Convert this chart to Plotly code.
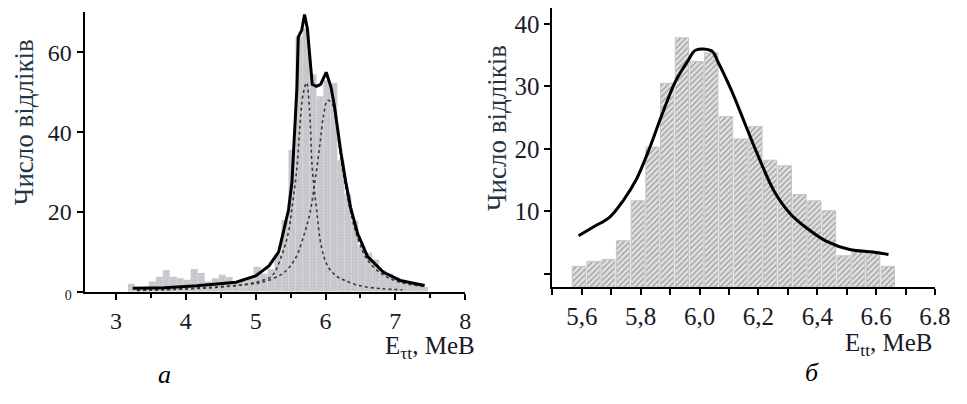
import plotly.graph_objects as go

# ---------------- panel (а) data ----------------
a_bin_centers = [3.22, 3.32, 3.42, 3.52, 3.62, 3.72, 3.82, 3.92, 4.02, 4.12, 4.22, 4.32,
                 4.42, 4.52, 4.62, 4.72, 4.82, 4.92, 5.02, 5.12, 5.22, 5.32, 5.42, 5.52,
                 5.62, 5.72, 5.82, 5.92, 6.02, 6.12, 6.22, 6.32, 6.42, 6.52, 6.62, 6.72,
                 6.82, 6.92, 7.02, 7.12, 7.22, 7.32, 7.42]
a_counts = [2.0, 1.0, 1.0, 2.6, 3.8, 5.4, 3.8, 3.4, 3.0, 5.7, 4.7, 2.6,
            3.4, 4.3, 3.7, 2.6, 2.8, 3.6, 6.3, 4.5, 5.7, 9.5, 18.0, 35.6,
            64.0, 66.0, 54.5, 49.0, 53.0, 52.3, 33.0, 24.4, 17.9, 11.4, 9.8, 8.1,
            5.5, 4.6, 3.6, 3.0, 2.4, 2.0, 1.2]

a_fit_x = [3.24, 3.69, 4.16, 4.5, 4.72, 5.0, 5.19, 5.33, 5.42, 5.47, 5.52, 5.56, 5.59,
           5.61, 5.66, 5.70, 5.74, 5.78, 5.81, 5.87, 5.93, 6.01, 6.08, 6.13, 6.17,
           6.22, 6.29, 6.36, 6.46, 6.60, 6.83, 7.07, 7.42]
a_fit_y = [0.9, 1.0, 1.5, 2.0, 2.4, 4.0, 6.5, 10.0, 16.3, 20.5, 27.6, 40.0, 51.0,
           63.8, 65.6, 69.5, 66.0, 58.0, 52.0, 51.5, 52.0, 55.0, 51.2, 46.3, 40.6,
           35.0, 27.6, 21.1, 14.6, 8.9, 4.9, 2.85, 1.6]

a_comp1_x = [3.3, 4.0, 4.5, 4.9, 5.1, 5.24, 5.38, 5.47, 5.52, 5.59, 5.63, 5.68, 5.73,
             5.77, 5.81, 5.87, 5.94, 6.03, 6.15, 6.27, 6.5, 6.8, 7.1]
a_comp1_y = [0.4, 0.7, 1.2, 2.0, 2.9, 4.1, 9.5, 15.0, 21.0, 31.0, 40.6, 49.6, 52.4,
             46.0, 31.0, 21.0, 11.4, 6.5, 4.0, 2.9, 1.5, 0.8, 0.5]

a_comp2_x = [3.3, 4.0, 4.5, 4.9, 5.09, 5.38, 5.56, 5.70, 5.78, 5.85, 5.92, 5.97, 6.03,
             6.10, 6.15, 6.20, 6.27, 6.36, 6.46, 6.60, 6.83, 7.07, 7.42]
a_comp2_y = [0.3, 0.8, 1.3, 1.9, 2.4, 4.5, 8.1, 14.7, 20.0, 27.7, 37.0, 44.0, 48.0,
             47.0, 43.0, 36.0, 28.0, 20.0, 13.5, 8.0, 4.2, 2.4, 1.3]

a_xticks = [3, 4, 5, 6, 7, 8]
a_yticks = [0, 20, 40, 60]
a_yticktext = ['<span style="font-size:14px">0</span>', '20', '40', '60']

# ---------------- panel (б) data ----------------
b_bin_centers = [5.59, 5.64, 5.69, 5.74, 5.79, 5.84, 5.89, 5.94, 5.99, 6.04, 6.09,
                 6.14, 6.19, 6.24, 6.29, 6.34, 6.39, 6.44, 6.49, 6.54, 6.59, 6.64]
b_counts = [1.2, 2.0, 2.3, 5.3, 11.7, 20.3, 30.5, 37.8, 34.0, 35.4, 25.2,
            21.6, 23.6, 18.2, 17.3, 12.7, 11.7, 10.1, 2.9, 3.5, 3.6, 1.2]

b_fit_x = [5.589, 5.639, 5.695, 5.740, 5.785, 5.829, 5.874, 5.919, 5.963, 5.986,
           6.041, 6.064, 6.108, 6.153, 6.198, 6.254, 6.309, 6.365, 6.432, 6.510,
           6.589, 6.642]
b_fit_y = [6.1, 7.5, 9.1, 11.7, 15.1, 20.0, 25.7, 30.9, 34.3, 35.8,
           35.7, 33.8, 29.4, 24.2, 19.0, 13.2, 9.6, 7.3, 5.2, 3.9,
           3.5, 3.1]

b_xticks = [5.6, 5.8, 6.0, 6.2, 6.4, 6.6, 6.8]
b_xticktext = ['5,6', '5,8', '6,0', '6,2', '6,4', '6.6', '6.8']
b_yticks = [10, 20, 30, 40]
b_yticktext = ['10', '20', '30', '40']

A_YMAX = 70.2
B_YMIN, B_YMAX = -2.1, 42.6

W, H = 967, 404
SERIF = "Liberation Serif"
TICK_COLOR = "#1a1a28"
TITLE_COLOR = "#1f3644"

fig = go.Figure()

# panel а bars
fig.add_trace(go.Bar(
    x=a_bin_centers, y=a_counts, width=0.1,
    marker=dict(color="#c6c6cc", line=dict(width=0),
                pattern=dict(shape="+", fgcolor="#adadb6", bgcolor="#cdcdd2",
                             size=3, solidity=0.35)),
    xaxis="x", yaxis="y", showlegend=False))
fig.add_trace(go.Scatter(x=a_comp1_x, y=a_comp1_y, mode="lines", line_shape="spline",
                         line=dict(color="#3a3a3a", width=1.6, dash="dot"),
                         xaxis="x", yaxis="y", showlegend=False))
fig.add_trace(go.Scatter(x=a_comp2_x, y=a_comp2_y, mode="lines", line_shape="spline",
                         line=dict(color="#3a3a3a", width=1.6, dash="dot"),
                         xaxis="x", yaxis="y", showlegend=False))
fig.add_trace(go.Scatter(x=a_fit_x, y=a_fit_y, mode="lines",
                         line=dict(color="black", width=3),
                         xaxis="x", yaxis="y", showlegend=False))

# panel б bars
fig.add_trace(go.Bar(
    x=b_bin_centers, y=[c - B_YMIN for c in b_counts], base=B_YMIN, width=0.045,
    marker=dict(color="#dcdcdc", line=dict(color="#c4c4cc", width=1),
                pattern=dict(shape="/", fgcolor="#5a5a5a", bgcolor="#e2e2e2",
                             size=4, solidity=0.35)),
    xaxis="x2", yaxis="y2", showlegend=False))
fig.add_trace(go.Scatter(x=b_fit_x, y=b_fit_y, mode="lines", line_shape="spline",
                         line=dict(color="black", width=3),
                         xaxis="x2", yaxis="y2", showlegend=False))

def axis_common(size):
    return dict(showline=True, linecolor="black", linewidth=2, showgrid=False,
                zeroline=False, ticks="outside", tickcolor="black", tickwidth=2,
                ticklen=6, tickfont=dict(family=SERIF, size=size, color=TICK_COLOR))

fig.update_layout(
    width=W, height=H, margin=dict(l=0, r=0, t=0, b=0),
    paper_bgcolor="white", plot_bgcolor="white", barmode="overlay",
    xaxis=dict(domain=[86 / W, 473 / W], range=[2.55, 8.0], anchor="y",
               tickvals=a_xticks,
               minor=dict(dtick=0.5, ticks="outside", ticklen=4, tickcolor="black", tickwidth=2),
               **axis_common(24)),
    yaxis=dict(domain=[1 - 300 / H, 1 - 12 / H], range=[0, A_YMAX], anchor="x",
               tickvals=a_yticks, ticktext=a_yticktext, **axis_common(24)),
    xaxis2=dict(domain=[561.7 / W, 950.7 / W], range=[5.5, 6.8], anchor="y2",
                tickvals=b_xticks, ticktext=b_xticktext,
                minor=dict(tick0=5.6, dtick=0.1, ticks="outside", ticklen=6,
                           tickcolor="black", tickwidth=2),
                **axis_common(25)),
    yaxis2=dict(domain=[1 - 295 / H, 1 - 8 / H], range=[B_YMIN, B_YMAX], anchor="x2",
                tickvals=b_yticks, ticktext=b_yticktext,
                minor=dict(tick0=0, dtick=10, ticks="outside", ticklen=6,
                           tickcolor="black", tickwidth=2),
                **axis_common(25)),
)

title_font = dict(family=SERIF, size=27, color=TITLE_COLOR)
fig.add_annotation(text="Число відліків", textangle=-90, x=24 / W, y=1 - 126 / H,
                   xanchor="center", yanchor="middle",
                   xref="paper", yref="paper", showarrow=False, font=title_font)
fig.add_annotation(text="Число відліків", textangle=-90, x=506 / W, y=1 - 132 / H,
                   xanchor="center", yanchor="middle",
                   xref="paper", yref="paper", showarrow=False, font=title_font)
xt_font = dict(family=SERIF, size=25, color=TICK_COLOR)
fig.add_annotation(text="E<sub>τt</sub>, MeB", x=389 / W, y=1 - 339 / H, xanchor="left",
                   yanchor="top", xref="paper", yref="paper", showarrow=False, font=xt_font)
fig.add_annotation(text="E<sub>tt</sub>, MeB", x=857 / W, y=1 - 336 / H, xanchor="left",
                   yanchor="top", xref="paper", yref="paper", showarrow=False, font=xt_font)
fig.add_annotation(text="<i>а</i>", x=167 / W, y=1 - 385 / H, xref="paper", yref="paper",
                   xanchor="center", yanchor="middle",
                   showarrow=False, font=dict(family=SERIF, size=26, color="black"))
fig.add_annotation(text="<i>б</i>", x=826 / W, y=1 - 383 / H, xref="paper", yref="paper",
                   xanchor="center", yanchor="middle",
                   showarrow=False, font=dict(family=SERIF, size=26, color="black"))

fig.write_html("out.html")
